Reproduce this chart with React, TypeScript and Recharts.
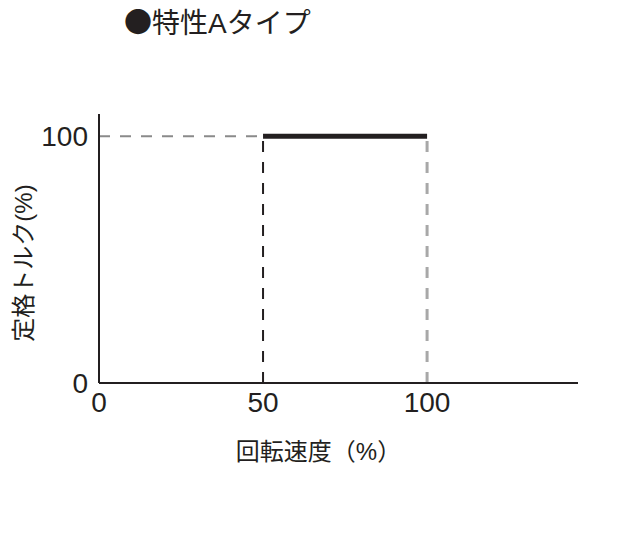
import { LineChart, Line, XAxis, YAxis, ReferenceLine, Label } from 'recharts'

const ratedRange = [
  { speed: 50, torque: 100 },
  { speed: 100, torque: 100 },
]
const xTicks = [0, 50, 100]
const yTicks = [0, 100]
const baseSpeed = 50
const maxSpeed = 100
const ratedTorque = 100

const font = '"Liberation Sans", "Noto Sans CJK JP", sans-serif'
const ink = '#231f20'

export default function App() {
  return (
    <div style={{ position: 'absolute', left: 0, top: 0, width: 620, height: 546, background: '#fff', fontFamily: font }}>
      <div style={{ position: 'absolute', left: 124, top: 1, fontSize: 28, color: ink, whiteSpace: 'nowrap' }}>
        <span style={{ fontFamily: '"Noto Sans CJK JP", sans-serif' }}>●</span>特性Aタイプ
      </div>
      <div
        style={{
          position: 'absolute',
          left: 21,
          top: 263,
          fontSize: 24,
          color: ink,
          whiteSpace: 'nowrap',
          transform: 'translate(-50%, -50%) rotate(-90deg)',
        }}
      >
        定格トルク(%)
      </div>
      <LineChart width={620} height={546} data={ratedRange} margin={{ top: 114, right: 42, bottom: 103, left: 39 }}>
        <XAxis
          type="number"
          dataKey="speed"
          domain={[0, 146]}
          ticks={xTicks}
          height={60}
          tickLine={false}
          tickSize={0}
          tickMargin={9}
          axisLine={{ stroke: ink, strokeWidth: 2 }}
          tick={{ fill: ink, fontSize: 28, fontFamily: font }}
        >
          <Label value="回転速度（%）" position="insideBottom" offset={-17} dx={-20} fill={ink} fontSize={24} fontFamily={font} />
        </XAxis>
        <YAxis
          type="number"
          dataKey="torque"
          domain={[0, 109]}
          ticks={yTicks}
          width={60}
          tickLine={false}
          tickSize={0}
          tickMargin={11}
          axisLine={{ stroke: ink, strokeWidth: 2 }}
          tick={{ fill: ink, fontSize: 28, fontFamily: font }}
        />
        <ReferenceLine segment={[{ x: 0, y: ratedTorque }, { x: baseSpeed, y: ratedTorque }]} stroke="#8a8a8a" strokeWidth={2} strokeDasharray="11 10" />
        <ReferenceLine segment={[{ x: baseSpeed, y: 0 }, { x: baseSpeed, y: ratedTorque }]} stroke={ink} strokeWidth={2} strokeDasharray="11 10" />
        <ReferenceLine segment={[{ x: maxSpeed, y: 0 }, { x: maxSpeed, y: ratedTorque }]} stroke="#a8a8a8" strokeWidth={3} strokeDasharray="11 10" />
        <Line type="linear" dataKey="torque" stroke={ink} strokeWidth={5} dot={false} isAnimationActive={false} />
      </LineChart>
    </div>
  )
}
